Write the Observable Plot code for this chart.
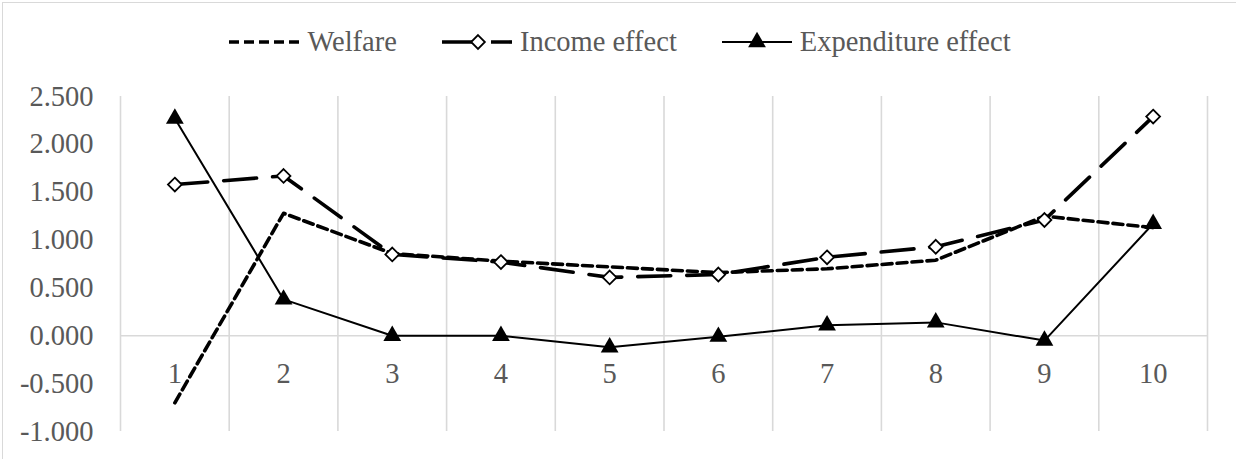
<!DOCTYPE html>
<html>
<head>
<meta charset="utf-8">
<script src="https://cdn.jsdelivr.net/npm/d3@7"></script>
<script src="https://cdn.jsdelivr.net/npm/@observablehq/plot@0.6"></script>
<style>
  html, body { margin: 0; padding: 0; background: #fff; }
  #chart { position: relative; width: 1236px; height: 459px; overflow: hidden; font-family: 'Liberation Serif', serif; }
  #frame { position: absolute; left: 2px; top: 2px; width: 1240px; height: 470px; border: 1px solid #d9d9d9; pointer-events: none; }
  #legend { height: 60px; box-sizing: border-box; padding-top: 24px; padding-left: 4px; display: flex; justify-content: center; align-items: center; gap: 45px; font-family: 'Liberation Serif', serif; font-size: 28.5px; color: #595959; }
  .item { display: flex; align-items: center; gap: 8px; line-height: 36px; }
  .item svg { display: block; }
  #plot svg { display: block; }
  #plot text { font-family: 'Liberation Serif', serif; }
</style>
</head>
<body>
<div id="chart">
  <div id="legend"></div>
  <div id="plot"></div>
  <div id="frame"></div>
</div>
<script>
// Deciles along the horizontal axis
const categories = [1, 2, 3, 4, 5, 6, 7, 8, 9, 10];

// Series values per decile
const welfare = [-0.70, 1.28, 0.86, 0.78, 0.72, 0.66, 0.70, 0.79, 1.25, 1.13];
const incomeEffect = [1.58, 1.67, 0.85, 0.77, 0.61, 0.64, 0.82, 0.93, 1.21, 2.29];
const expenditureEffect = [2.27, 0.38, 0.00, 0.00, -0.12, -0.01, 0.11, 0.14, -0.05, 1.17];

// Value axis ticks
const yTicks = [-1, -0.5, 0, 0.5, 1, 1.5, 2, 2.5];

const seriesNames = ["Welfare", "Income effect", "Expenditure effect"];

const toRows = (values) => categories.map((c, i) => ({decile: c, value: values[i]}));
const welfareRows = toRows(welfare);
const incomeRows = toRows(incomeEffect);
const expenditureRows = toRows(expenditureEffect);

// Category boundaries for the vertical grid
const edges = categories.map(c => c - 0.5).concat([categories[categories.length - 1] + 0.5]);

const fmt = d => d.toFixed(3);

const welfareStyle = {stroke: "black", strokeWidth: 3.6, strokeDasharray: "10,5", strokeLinejoin: "round"};
const incomeStyle = {stroke: "black", strokeWidth: 3.6, strokeDasharray: "33,16", strokeLinejoin: "round"};
const expenditureStyle = {stroke: "black", strokeWidth: 2, strokeLinejoin: "round"};
const diamondR = 6.2;
const triangleR = 6.6;

const plot = Plot.plot({
  width: 1236,
  height: 399,
  marginTop: 36,
  marginBottom: 28,
  marginLeft: 120,
  marginRight: 29,
  style: {fontFamily: "'Liberation Serif', serif", fontSize: "28.5px", color: "#595959", background: "transparent"},
  x: {type: "linear", domain: [edges[0], edges[edges.length - 1]], axis: null},
  y: {domain: [yTicks[0], yTicks[yTicks.length - 1]], axis: null},
  marks: [
    Plot.ruleX(edges, {stroke: "#d9d9d9", strokeWidth: 1.6}),
    Plot.ruleY([0], {stroke: "#d9d9d9", strokeWidth: 1.6}),
    Plot.axisY(yTicks, {tickSize: 0, tickPadding: 27, tickFormat: fmt, label: null, fill: "#595959"}),
    Plot.text(categories, {x: d => d, y: 0, dy: 38, text: d => String(d), fill: "#595959", fontSize: 28.5}),
    Plot.line(welfareRows, {x: "decile", y: "value", ...welfareStyle}),
    Plot.line(incomeRows, {x: "decile", y: "value", ...incomeStyle}),
    Plot.dot(incomeRows, {x: "decile", y: "value", symbol: "diamond2", r: diamondR, fill: "white", stroke: "black", strokeWidth: 1.8}),
    Plot.line(expenditureRows, {x: "decile", y: "value", ...expenditureStyle}),
    Plot.dot(expenditureRows, {x: "decile", y: "value", symbol: "triangle", r: triangleR, fill: "black", stroke: "none"})
  ]
});
document.getElementById("plot").appendChild(plot);

// Legend with line samples
const legend = d3.select("#legend");
const samples = [
  {name: seriesNames[0], line: welfareStyle, marker: null},
  {name: seriesNames[1], line: incomeStyle, marker: "diamond"},
  {name: seriesNames[2], line: expenditureStyle, marker: "triangle"}
];
samples.forEach(s => {
  const item = legend.append("div").attr("class", "item");
  const svg = item.append("svg").attr("width", 70).attr("height", 24);
  svg.append("line")
    .attr("x1", 0).attr("x2", 70).attr("y1", 12).attr("y2", 12)
    .attr("stroke", s.line.stroke)
    .attr("stroke-width", s.line.strokeWidth)
    .attr("stroke-dasharray", s.line.strokeDasharray || null);
  if (s.marker === "diamond") {
    svg.append("path")
      .attr("transform", "translate(36,12)")
      .attr("d", d3.symbol(d3.symbolDiamond2, Math.PI * diamondR * diamondR)())
      .attr("fill", "white").attr("stroke", "black").attr("stroke-width", 1.8);
  } else if (s.marker === "triangle") {
    svg.append("path")
      .attr("transform", "translate(35,12)")
      .attr("d", d3.symbol(d3.symbolTriangle, Math.PI * triangleR * triangleR)())
      .attr("fill", "black");
  }
  item.append("span").text(s.name);
});
</script>
</body>
</html>
